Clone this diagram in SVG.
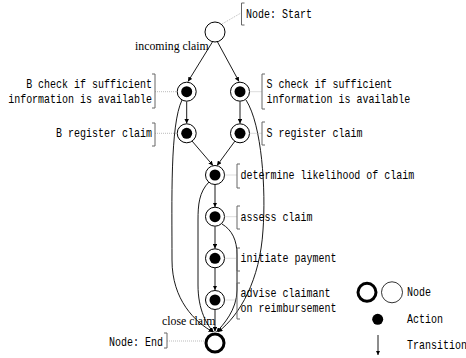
<svg xmlns="http://www.w3.org/2000/svg" width="466" height="358" viewBox="0 0 466 358">
<style>
.mono{font-family:"Liberation Mono","DejaVu Sans Mono",monospace;font-size:10px;fill:#000}
.serif{font-family:"Liberation Serif","Times New Roman",serif;font-size:11.8px;fill:#000}
.outer{fill:#fff;stroke:#000;stroke-width:1}
.dot{fill:#000}
.edge{fill:none;stroke:#000;stroke-width:0.9}
.lead{fill:none;stroke:#aaa;stroke-width:0.8;stroke-dasharray:1,1}
.br{fill:none;stroke:#666;stroke-width:1}
</style>
<defs>
<marker id="ah" viewBox="0 0 6 6" refX="6" refY="3" markerWidth="4.5" markerHeight="4.5" orient="auto" markerUnits="userSpaceOnUse">
<path d="M0,0 L6,3 L0,6 Z" fill="#000"/>
</marker>
</defs>
<rect width="466" height="358" fill="#fff"/>

<g id="connectors">
<line class="edge" x1="213" y1="41" x2="188" y2="81.5" marker-end="url(#ah)"/>
<line class="edge" x1="217" y1="41" x2="239" y2="81.5" marker-end="url(#ah)"/>
<text class="serif" x="135" y="50">incoming claim</text>
<line class="edge" x1="186.7" y1="101.5" x2="186.7" y2="123.5" marker-end="url(#ah)"/>
<line class="edge" x1="240" y1="101.5" x2="240" y2="123.5" marker-end="url(#ah)"/>
<line class="edge" x1="192" y1="141" x2="213" y2="165.5" marker-end="url(#ah)"/>
<line class="edge" x1="235" y1="141" x2="217" y2="165.5" marker-end="url(#ah)"/>
<line class="edge" x1="215" y1="185" x2="215" y2="207" marker-end="url(#ah)"/>
<line class="edge" x1="215" y1="226.5" x2="215" y2="248.5" marker-end="url(#ah)"/>
<line class="edge" x1="215" y1="268" x2="215" y2="290" marker-end="url(#ah)"/>
<line class="edge" x1="215" y1="310" x2="215" y2="331.5" marker-end="url(#ah)"/>
<path class="edge" d="M182,100 C170,125 172,200 172,260 C172,300 195,322 213,332" marker-end="url(#ah)"/>
<path class="edge" d="M246,100 C262,125 266,190 263,230 C260,280 240,315 218,332" marker-end="url(#ah)"/>
<path class="edge" d="M209,182 C199,192 198,205 198,220 L198,285 C198,310 207,325 213.5,332" marker-end="url(#ah)"/>
<path class="edge" d="M222,224 C232,230 237,240 237,255 L237,290 C237,310 223,325 216.5,332" marker-end="url(#ah)"/>
<text class="serif" x="162" y="325">close claim</text>
</g>

<g id="start">
<circle class="outer" cx="215" cy="32" r="10"/>
<path class="lead" d="M222,24 L241,13"/>
<path class="br" d="M244.5,3 L241.5,3 L241.5,25 L244.5,25"/>
<text class="mono" transform="translate(246,18) scale(1,1.2)">Node: Start</text>
</g>

<g id="b_check">
<circle class="outer" cx="186.7" cy="91.7" r="9.5"/>
<circle class="dot" cx="186.7" cy="91.7" r="5.5"/>
<path class="lead" d="M155,91.7 L177,91.7"/>
<path class="br" d="M152,74 L155,74 L155,108 L152,108"/>
<text class="mono" transform="translate(152,88) scale(1,1.2)" text-anchor="end">B check if sufficient</text>
<text class="mono" transform="translate(152,102.5) scale(1,1.2)" text-anchor="end">information is available</text>
</g>

<g id="s_check">
<circle class="outer" cx="240" cy="91.7" r="9.5"/>
<circle class="dot" cx="240" cy="91.7" r="5.5"/>
<path class="lead" d="M249.5,91.7 L262,91.7"/>
<path class="br" d="M265,74 L262,74 L262,109 L265,109"/>
<text class="mono" transform="translate(266.5,88) scale(1,1.2)">S check if sufficient</text>
<text class="mono" transform="translate(266.5,102.5) scale(1,1.2)">information is available</text>
</g>

<g id="b_register">
<circle class="outer" cx="186.7" cy="133.3" r="9.5"/>
<circle class="dot" cx="186.7" cy="133.3" r="5.5"/>
<path class="lead" d="M155,133.3 L177,133.3"/>
<path class="br" d="M152,123 L155,123 L155,146 L152,146"/>
<text class="mono" transform="translate(152,137.3) scale(1,1.2)" text-anchor="end">B register claim</text>
</g>

<g id="s_register">
<circle class="outer" cx="240" cy="133.3" r="9.5"/>
<circle class="dot" cx="240" cy="133.3" r="5.5"/>
<path class="lead" d="M249.5,133.3 L262,133.3"/>
<path class="br" d="M265,122 L262,122 L262,145 L265,145"/>
<text class="mono" transform="translate(266.5,137) scale(1,1.2)">S register claim</text>
</g>

<g id="determine">
<circle class="outer" cx="215" cy="175" r="9.5"/>
<circle class="dot" cx="215" cy="175" r="5.5"/>
<path class="lead" d="M224.5,175 L237,175"/>
<path class="br" d="M240,164 L237,164 L237,188 L240,188"/>
<text class="mono" transform="translate(240.5,179) scale(1,1.2)">determine likelihood of claim</text>
</g>

<g id="assess">
<circle class="outer" cx="215" cy="216.7" r="9.5"/>
<circle class="dot" cx="215" cy="216.7" r="5.5"/>
<path class="lead" d="M224.5,216.7 L237,216.7"/>
<path class="br" d="M240,206 L237,206 L237,229 L240,229"/>
<text class="mono" transform="translate(240.5,220.5) scale(1,1.2)">assess claim</text>
</g>

<g id="initiate">
<circle class="outer" cx="215" cy="258.3" r="9.5"/>
<circle class="dot" cx="215" cy="258.3" r="5.5"/>
<path class="lead" d="M224.5,258.3 L237,258.3"/>
<path class="br" d="M240,248 L237,248 L237,271 L240,271"/>
<text class="mono" transform="translate(240.5,262) scale(1,1.2)">initiate payment</text>
</g>

<g id="advise">
<circle class="outer" cx="215" cy="300" r="9.5"/>
<circle class="dot" cx="215" cy="300" r="5.5"/>
<path class="lead" d="M224.5,300 L237,300"/>
<path class="br" d="M240,283 L237,283 L237,319 L240,319"/>
<text class="mono" transform="translate(240.5,297) scale(1,1.2)">advise claimant</text>
<text class="mono" transform="translate(240.5,311.5) scale(1,1.2)">on reimbursement</text>
</g>

<g id="end">
<circle cx="215" cy="343" r="9" fill="#fff" stroke="#000" stroke-width="3"/>
<path class="lead" d="M167,341 L204.5,341"/>
<path class="br" d="M164,333 L167,333 L167,348 L164,348"/>
<text class="mono" transform="translate(163,346) scale(1,1.2)" text-anchor="end">Node: End</text>
</g>

<g id="legend">
<circle cx="367" cy="292.3" r="9" fill="#fff" stroke="#000" stroke-width="3"/>
<circle cx="392" cy="292.3" r="10.5" fill="#fff" stroke="#000" stroke-width="0.8"/>
<text class="mono" transform="translate(407,296) scale(1,1.2)">Node</text>
<circle class="dot" cx="377.7" cy="319.3" r="5.5"/>
<text class="mono" transform="translate(407,323) scale(1,1.2)">Action</text>
<line class="edge" x1="378" y1="335" x2="378" y2="355" marker-end="url(#ah)"/>
<text class="mono" transform="translate(407,349) scale(1,1.2)">Transition</text>
</g>
</svg>
